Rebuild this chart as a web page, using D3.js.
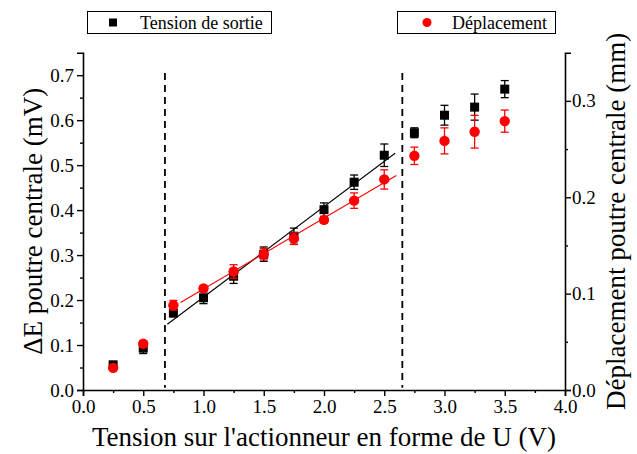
<!DOCTYPE html>
<html><head><meta charset="utf-8">
<script src="https://cdn.jsdelivr.net/npm/d3@7"></script>
<style>body{margin:0;background:#fff}svg{display:block}</style>
</head><body><svg id="c" width="637" height="454"></svg>
<script>
const voltage = [0.25,0.5,0.75,1.0,1.25,1.5,1.75,2.0,2.25,2.5,2.75,3.0,3.25,3.5];
const tensionSortie = [0.056,0.093,0.171,0.205,0.253,0.302,0.342,0.401,0.462,0.522,0.572,0.611,0.629,0.669];
const tensionErr = [0.005,0.012,0.008,0.013,0.016,0.016,0.018,0.015,0.016,0.025,0.011,0.022,0.029,0.019];
const deplacement = [0.023,0.048,0.088,0.1055,0.123,0.141,0.157,0.1765,0.1965,0.2185,0.243,0.2585,0.268,0.279];
const deplErr = [0.002,0.003,0.005,0.002,0.007,0.006,0.006,0.003,0.008,0.010,0.009,0.0135,0.017,0.0115];
const fitRange = [2,9];            // indices used for the linear fits
const fitXBlack = [0.70,2.59];
const fitXRed = [0.81,2.60];
const regionBounds = [0.68,2.65];
const xTicks = [0,0.5,1,1.5,2,2.5,3,3.5,4];
const yLeftTicks = [0,0.1,0.2,0.3,0.4,0.5,0.6,0.7];
const yRightTicks = [0,0.1,0.2,0.3];

const FONT = "'Liberation Serif', 'Times New Roman', Times, serif";
const svg = d3.select("#c");
const L=83,R=565,T=52.7,B=390;
const x = d3.scaleLinear().domain([0,4]).range([L,R]);
const yL = d3.scaleLinear().domain([0,0.75]).range([B,T]);
const yR = d3.scaleLinear().domain([0,0.35]).range([B,T]);

function axisDraw(g, axis){ g.call(axis); g.attr("font-family",null).attr("font-size",null);
  g.select(".domain").attr("stroke","#000").attr("stroke-width",1.6);
  g.selectAll(".tick line").attr("stroke","#000").attr("stroke-width",1.4);
  g.selectAll("text").attr("fill","#000").style("font-size","19px").style("font-family",FONT); }

const xMinor = d3.range(0.25,4,0.5);
const yLMinor = d3.range(0.05,0.75,0.1);
const yRMinor = d3.range(0.05,0.35,0.1);

function minor(tr, axis){ svg.append("g").attr("transform",tr).call(axis.tickFormat("").tickSize(3).tickSizeOuter(0))
  .call(g=>{g.select(".domain").remove();g.selectAll("line").attr("stroke","#000").attr("stroke-width",1.4);}); }

svg.append("g").attr("transform",`translate(0,${B})`)
  .call(g=>axisDraw(g,d3.axisBottom(x).tickValues(xTicks).tickFormat(d3.format(".1f")).tickSizeOuter(0).tickSize(6).tickPadding(4)));
minor(`translate(0,${B})`, d3.axisBottom(x).tickValues(xMinor));

svg.append("g").attr("transform",`translate(${L},0)`)
  .call(g=>axisDraw(g,d3.axisLeft(yL).tickValues(yLeftTicks).tickFormat(d3.format(".1f")).tickSizeOuter(0).tickSize(6).tickPadding(3)));
minor(`translate(${L},0)`, d3.axisLeft(yL).tickValues(yLMinor));

svg.append("g").attr("transform",`translate(${R},0)`)
  .call(g=>axisDraw(g,d3.axisRight(yR).tickValues(yRightTicks).tickFormat(d3.format(".1f")).tickSizeOuter(0).tickSize(6).tickPadding(1)));
minor(`translate(${R},0)`, d3.axisRight(yR).tickValues(yRMinor));

// dashed region lines
svg.selectAll(".vd").data(regionBounds).enter().append("line")
  .attr("x1",d=>x(d)).attr("x2",d=>x(d)).attr("y1",yL(0.705)).attr("y2",yL(0.005))
  .attr("stroke","#000").attr("stroke-width",1.8).attr("stroke-dasharray","7,5");

// linear fits computed from the data
function fit(ys){ const xs=voltage.slice(fitRange[0],fitRange[1]+1), vs=ys.slice(fitRange[0],fitRange[1]+1);
  const mx=d3.mean(xs), my=d3.mean(vs); let sxy=0,sxx=0; xs.forEach((v,i)=>{sxy+=(v-mx)*(vs[i]-my);sxx+=(v-mx)**2;});
  const b=sxy/sxx; return [b, my-b*mx]; }
const [bk,ak]=fit(tensionSortie), [br,ar]=fit(deplacement);
svg.append("line").attr("x1",x(fitXBlack[0])).attr("x2",x(fitXBlack[1])).attr("y1",yL(ak+bk*fitXBlack[0])).attr("y2",yL(ak+bk*fitXBlack[1])).attr("stroke","#000").attr("stroke-width",1.1);
svg.append("line").attr("x1",x(fitXRed[0])).attr("x2",x(fitXRed[1])).attr("y1",yR(ar+br*fitXRed[0])).attr("y2",yR(ar+br*fitXRed[1])).attr("stroke","#ff0000").attr("stroke-width",1.1);

function errBars(vals, errs, ys, color){
  const g=svg.append("g").attr("stroke",color).attr("stroke-width",1.3);
  voltage.forEach((v,i)=>{ const cx=x(v), y1=ys(vals[i]-errs[i]), y2=ys(vals[i]+errs[i]);
    g.append("line").attr("x1",cx).attr("x2",cx).attr("y1",y1).attr("y2",y2);
    g.append("line").attr("x1",cx-4).attr("x2",cx+4).attr("y1",y1).attr("y2",y1);
    g.append("line").attr("x1",cx-4).attr("x2",cx+4).attr("y1",y2).attr("y2",y2); });
}
errBars(tensionSortie,tensionErr,yL,"#000");
svg.append("g").selectAll("rect").data(voltage).enter().append("rect")
  .attr("x",(d)=>x(d)-4.5).attr("y",(d,i)=>yL(tensionSortie[i])-4.5).attr("width",9).attr("height",9).attr("fill","#000");
errBars(deplacement,deplErr,yR,"#ff0000");
svg.append("g").selectAll("circle").data(voltage).enter().append("circle")
  .attr("cx",d=>x(d)).attr("cy",(d,i)=>yR(deplacement[i])).attr("r",5.2).attr("fill","#ff0000");

function txt(sel){ return sel.attr("fill","#000").style("font-family",FONT); }
// axis titles
txt(svg.append("text")).attr("x",(L+R)/2).attr("y",446).attr("text-anchor","middle").style("font-size","27px").text("Tension sur l'actionneur en forme de U (V)");
txt(svg.append("text")).attr("transform",`translate(42,${(T+B)/2}) rotate(-90)`).attr("text-anchor","middle").style("font-size","27px").text("ΔE poutre centrale (mV)");
txt(svg.append("text")).attr("transform",`translate(625,${(T+B)/2}) rotate(-90)`).attr("text-anchor","middle").style("font-size","27px").text("Déplacement poutre centrale (mm)");

// legends
const lg1=svg.append("g");
lg1.append("rect").attr("x",87.5).attr("y",11.5).attr("width",184).attr("height",22).attr("fill","#fff").attr("stroke","#000").attr("stroke-width",1);
lg1.append("rect").attr("x",109).attr("y",18.5).attr("width",8).attr("height",8).attr("fill","#000");
txt(lg1.append("text")).attr("x",140).attr("y",28.5).style("font-size","18px").text("Tension de sortie");
const lg2=svg.append("g");
lg2.append("rect").attr("x",397.5).attr("y",11.5).attr("width",158).attr("height",22).attr("fill","#fff").attr("stroke","#000").attr("stroke-width",1);
lg2.append("circle").attr("cx",427).attr("cy",22.5).attr("r",4.5).attr("fill","#ff0000");
txt(lg2.append("text")).attr("x",452).attr("y",28.5).style("font-size","18px").text("Déplacement");
</script></body></html>
